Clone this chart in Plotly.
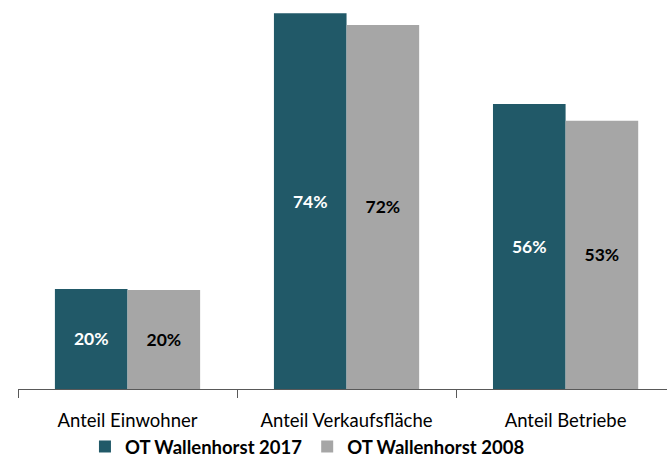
import plotly.graph_objects as go

kategorien = ['Anteil Einwohner', 'Anteil Verkaufsfläche', 'Anteil Betriebe']
werte_2017 = [19.7, 74.0, 56.1]
werte_2008 = [19.5, 71.7, 52.8]

teal = '#215968'
grau = '#A6A6A6'
schrift = 'Lato, Open Sans, sans-serif'

fig = go.Figure()
fig.add_trace(go.Bar(x=kategorien, y=werte_2017, name='OT Wallenhorst 2017',
                     marker_color=teal, marker_line_width=0,
                     text=[f'{round(v)}%' for v in werte_2017],
                     textposition='inside', insidetextanchor='middle',
                     textfont=dict(color='white', size=17.5, family=schrift, weight='bold')))
fig.add_trace(go.Bar(x=kategorien, y=werte_2008, name='OT Wallenhorst 2008',
                     marker_color=grau, marker_line_width=0,
                     text=[f'{round(v)}%' for v in werte_2008],
                     textposition='inside', insidetextanchor='middle',
                     textfont=dict(color='black', size=17.5, family=schrift, weight='bold')))

fig.update_layout(
    width=667, height=459,
    margin=dict(l=18, r=0, t=0, b=70, autoexpand=False),
    plot_bgcolor='white', paper_bgcolor='white',
    barmode='group', bargap=0.337, bargroupgap=0,
    uniformtext=dict(mode='show', minsize=10),
    font=dict(family=schrift, size=18.5, color='black'),
    legend=dict(orientation='h', x=0.446, xanchor='center', y=-0.149, yref='paper',
                yanchor='middle', font=dict(size=18.5, weight='bold'),
                bgcolor='rgba(0,0,0,0)', traceorder='normal', itemwidth=30),
)
fig.update_xaxes(range=[-0.5, 2.463], showline=True, linecolor='#595959', linewidth=1,
                 ticks='outside', tickson='boundaries', ticklen=8, tickcolor='#595959',
                 ticklabelstandoff=15, showgrid=False, automargin=False)
fig.update_yaxes(range=[0, 76.6], visible=False, showgrid=False, automargin=False)

config = {'displayModeBar': False}

# body-Rand des Browsers entfernen, damit die Grafik bei 0,0 beginnt
fig.write_html('out.html', config=config, post_script="document.body.style.margin='0';")
